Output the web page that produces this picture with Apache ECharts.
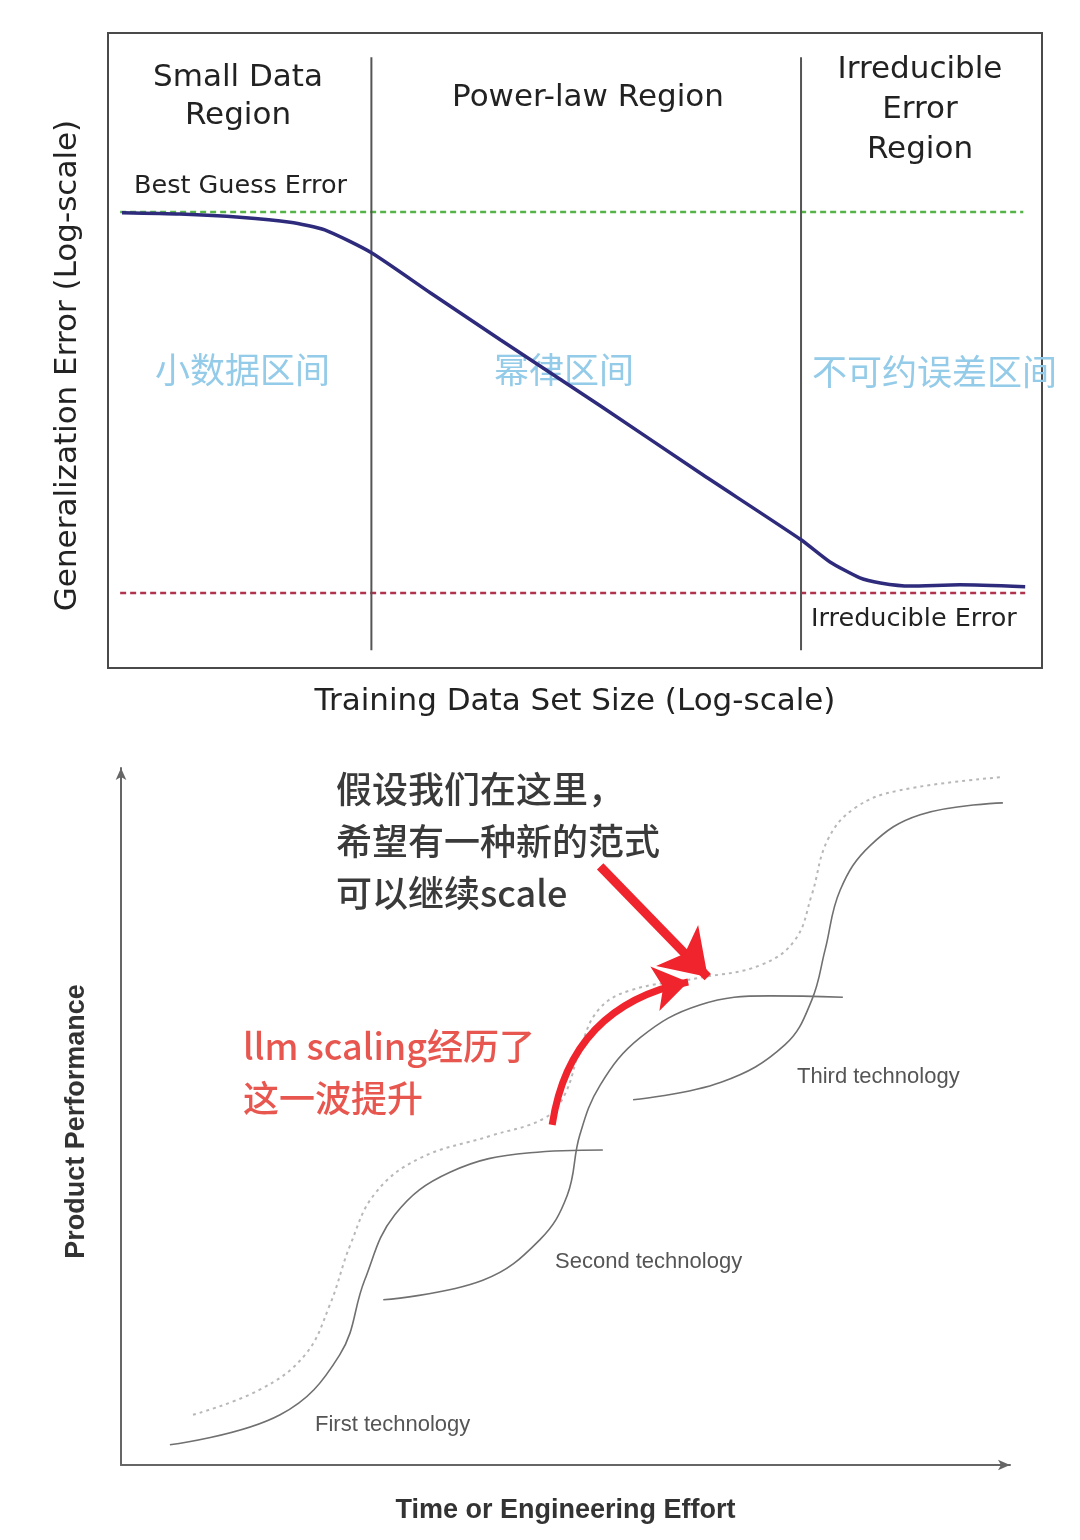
<!DOCTYPE html>
<html>
<head>
<meta charset="utf-8">
<script src="https://cdn.jsdelivr.net/npm/echarts@6/dist/echarts.min.js"></script>
<style>
html,body{margin:0;padding:0;background:#fff;}
#chart{width:1080px;height:1540px;}
</style>
</head>
<body>
<div id="chart"></div>
<script>
// ---------- Top panel data (conceptual units 0..100) ----------
const errX = [1.5, 7.7, 14.1, 19.5, 23.2, 28.2, 34.5, 42.0, 52.7, 63.4, 74.2, 77.3, 80.5, 82.7, 85.9, 91.2, 98.2];
const errY = [71.7, 71.5, 71.0, 70.2, 69.0, 65.4, 59.1, 51.7, 41.3, 30.7, 20.2, 16.7, 14.2, 13.4, 12.9, 13.1, 12.8];
const bestGuessLevel = 71.8;
const irreducibleLevel = 11.8;
const refLineSpan = [1.3, 98.0];
const regionBounds = [28.2, 74.2];
const regionSpanY = [2.8, 96.2];

// ---------- Bottom panel data (conceptual units 0..100) ----------
const tech1X = [5.5, 17.9, 24.6, 27.4, 30.8, 37.0, 46.0, 54.2];
const tech1Y = [2.9, 7.2, 15.8, 26.5, 35.9, 42.0, 44.8, 45.2];
const tech2X = [29.5, 40.7, 47.1, 50.2, 51.6, 53.9, 58.4, 65.1, 73.0, 81.2];
const tech2Y = [23.7, 26.5, 32.3, 38.7, 47.3, 54.5, 61.3, 66.0, 67.3, 67.1];
const tech3X = [57.6, 67.5, 74.7, 77.7, 79.2, 80.9, 84.3, 89.9, 99.2];
const tech3Y = [52.4, 54.9, 60.3, 66.7, 73.9, 82.5, 88.9, 93.3, 95.0];
const envX = [8.1, 15.6, 20.7, 23.5, 25.8, 28.6, 33.6, 41.5, 47.7, 49.9, 51.6, 53.7, 57.3, 65.1, 71.9, 75.8, 77.7, 79.5, 82.6, 87.6, 99.2];
const envY = [7.2, 10.8, 15.8, 23.0, 31.6, 39.0, 44.0, 47.2, 49.8, 53.1, 59.5, 65.3, 68.1, 69.9, 71.7, 75.3, 81.8, 89.7, 94.3, 96.8, 98.7];
const arrowStraight = [[53.9, 85.9], [66.0, 70.0]];
const arrowCurved = [[48.5, 48.8], [63.8, 69.3]];

const zip = (xs, ys) => xs.map((x, i) => [x, ys[i]]);

const chart = echarts.init(document.getElementById('chart'), null, {renderer: 'canvas'});

const latin = '"DejaVu Sans", Verdana, sans-serif';
const helv = '"Liberation Sans", Arial, sans-serif';
const cjk = '"Noto Sans CJK SC", sans-serif';

function txt(text, x, y, size, color, opts) {
  return Object.assign({
    type: 'text', x: x, y: y, z: 1,
    style: Object.assign({
      text: text, fontSize: size, fill: color, fontFamily: latin,
      textAlign: 'left', textVerticalAlign: 'middle'
    }, (opts && opts.style) || {})
  }, (opts && opts.el) || {});
}

const sCurve = {smooth: 0.4};

const option = {
  backgroundColor: '#fff',
  animation: false,
  grid: [
    {left: 108, top: 33, width: 934, height: 635, show: true, borderColor: '#4a4a4a', borderWidth: 2, containLabel: false, outerBoundsMode: 'none'},
    {left: 121, top: 768, width: 889, height: 697, show: false, containLabel: false, outerBoundsMode: 'none'}
  ],
  xAxis: [
    {gridIndex: 0, type: 'value', min: 0, max: 100,
     axisLine: {show: false}, axisTick: {show: false}, axisLabel: {show: false}, splitLine: {show: false},
     name: 'Training Data Set Size (Log-scale)', nameLocation: 'middle', nameGap: 18,
     nameTextStyle: {fontFamily: latin, fontSize: 31, color: '#222', verticalAlign: 'top'}},
    {gridIndex: 1, type: 'value', min: 0, max: 100,
     axisLine: {show: true, symbol: ['none', 'arrow'], symbolSize: [8, 12], lineStyle: {color: '#666', width: 2}},
     axisTick: {show: false}, axisLabel: {show: false}, splitLine: {show: false},
     name: 'Time or Engineering Effort', nameLocation: 'middle', nameGap: 32,
     nameTextStyle: {fontFamily: helv, fontWeight: 'bold', fontSize: 27, color: '#333', verticalAlign: 'top'}}
  ],
  yAxis: [
    {gridIndex: 0, type: 'value', min: 0, max: 100,
     axisLine: {show: false}, axisTick: {show: false}, axisLabel: {show: false}, splitLine: {show: false},
     name: 'Generalization Error (Log-scale)', nameLocation: 'middle', nameGap: 25,
     nameTextStyle: {fontFamily: latin, fontSize: 31, color: '#222', padding: [0, 30, 0, 0]}},
    {gridIndex: 1, type: 'value', min: 0, max: 100,
     axisLine: {show: true, symbol: ['none', 'arrow'], symbolSize: [8, 12], lineStyle: {color: '#666', width: 2}},
     axisTick: {show: false}, axisLabel: {show: false}, splitLine: {show: false},
     name: 'Product Performance', nameLocation: 'middle', nameGap: 31,
     nameTextStyle: {fontFamily: helv, fontWeight: 'bold', fontSize: 27, color: '#333', padding: [0, 10, 0, 0]}}
  ],
  series: [
    // top panel
    {type: 'line', xAxisIndex: 0, yAxisIndex: 0, symbol: 'none', z: 2,
     data: refLineSpan.map(x => [x, bestGuessLevel]),
     lineStyle: {color: '#55b347', width: 2.5, type: [6, 4]}},
    {type: 'line', xAxisIndex: 0, yAxisIndex: 0, symbol: 'none', z: 2,
     data: [refLineSpan[0], refLineSpan[1] + 0.2].map(x => [x, irreducibleLevel]),
     lineStyle: {color: '#b0344e', width: 2.5, type: [6, 4]}},
    ...regionBounds.map(b => ({
      type: 'line', xAxisIndex: 0, yAxisIndex: 0, symbol: 'none', z: 2,
      data: regionSpanY.map(y => [b, y]),
      lineStyle: {color: '#555', width: 2}
    })),
    {type: 'line', xAxisIndex: 0, yAxisIndex: 0, symbol: 'none', smooth: 0.2, z: 3,
     data: zip(errX, errY), lineStyle: {color: '#2e2b7c', width: 3.5}},
    // bottom panel
    Object.assign({type: 'line', xAxisIndex: 1, yAxisIndex: 1, symbol: 'none', z: 2,
     data: zip(envX, envY), lineStyle: {color: '#b8b8b8', width: 2, type: [3, 4]}}, sCurve),
    Object.assign({type: 'line', xAxisIndex: 1, yAxisIndex: 1, symbol: 'none', z: 3,
     data: zip(tech1X, tech1Y), lineStyle: {color: '#707070', width: 1.6}}, sCurve),
    Object.assign({type: 'line', xAxisIndex: 1, yAxisIndex: 1, symbol: 'none', z: 3,
     data: zip(tech2X, tech2Y), lineStyle: {color: '#707070', width: 1.6}}, sCurve),
    Object.assign({type: 'line', xAxisIndex: 1, yAxisIndex: 1, symbol: 'none', z: 3,
     data: zip(tech3X, tech3Y), lineStyle: {color: '#707070', width: 1.6}}, sCurve),
    {type: 'lines', coordinateSystem: 'cartesian2d', xAxisIndex: 1, yAxisIndex: 1, z: 5,
     symbol: ['none', 'arrow'], symbolSize: [0, 44],
     lineStyle: {color: '#f0242c', width: 9, opacity: 1, curveness: 0},
     data: [{coords: arrowStraight}]},
    {type: 'lines', coordinateSystem: 'cartesian2d', xAxisIndex: 1, yAxisIndex: 1, z: 5,
     symbol: ['none', 'arrow'], symbolSize: [0, 34],
     lineStyle: {color: '#f0242c', width: 7, opacity: 1, curveness: 0.35},
     data: [{coords: arrowCurved}]}
  ],
  graphic: [
    txt('Small Data\nRegion', 238, 97, 31, '#222', {style: {textAlign: 'center', lineHeight: 38}}),
    txt('Power-law Region', 588, 98, 31, '#222', {style: {textAlign: 'center'}}),
    txt('Irreducible\nError\nRegion', 920, 110, 31, '#222', {style: {textAlign: 'center', lineHeight: 40}}),
    txt('Best Guess Error', 134, 186, 25.5, '#222'),
    txt('Irreducible Error', 811, 619, 25.5, '#222'),
    txt('小数据区间', 155, 370, 35, '#93cbe8', {style: {fontFamily: cjk}}),
    txt('幂律区间', 494, 370, 35, '#93cbe8', {style: {fontFamily: cjk}}),
    txt('不可约误差区间', 812, 372, 35, '#93cbe8', {style: {fontFamily: cjk}}),
    txt('假设我们在这里，\n希望有一种新的范式\n可以继续scale', 336, 841, 36, '#3a3a3a', {style: {fontFamily: cjk, fontWeight: 500, lineHeight: 52}}),
    txt('llm scaling经历了\n这一波提升', 243, 1072, 36, '#e8574f', {style: {fontFamily: cjk, fontWeight: 500, lineHeight: 52}}),
    txt('Third technology', 797, 1077, 22, '#555', {style: {fontFamily: helv}}),
    txt('Second technology', 555, 1262, 22, '#555', {style: {fontFamily: helv}}),
    txt('First technology', 315, 1425, 22, '#555', {style: {fontFamily: helv}})
  ]
};
chart.setOption(option);
</script>
</body>
</html>
